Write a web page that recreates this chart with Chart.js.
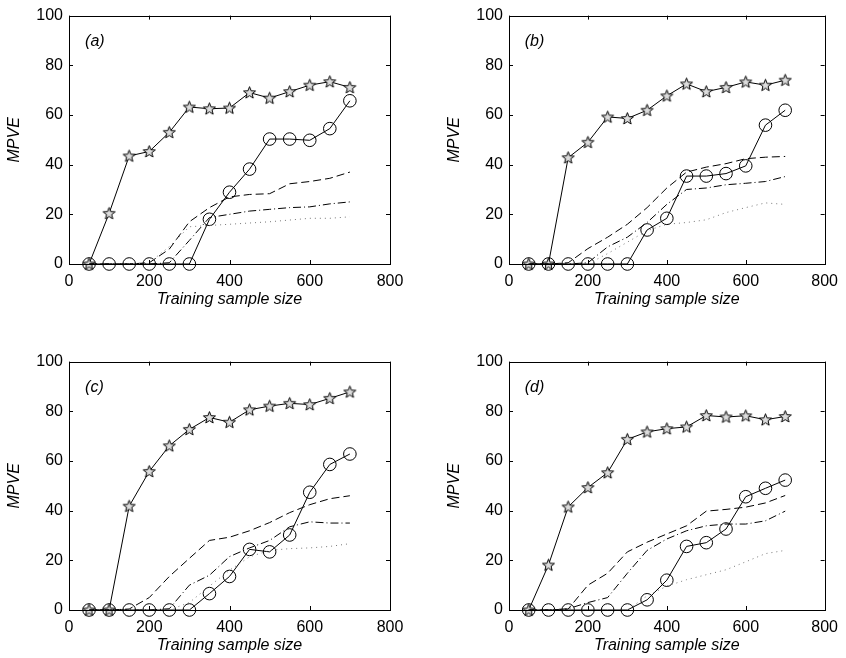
<!DOCTYPE html>
<html>
<head>
<meta charset="utf-8">
<script src="https://cdn.jsdelivr.net/npm/chart.js@4.4.1/dist/chart.umd.min.js"></script>
<style>
    html, body { margin: 0; padding: 0; background: #fff; }
    body { width: 846px; height: 658px; position: relative; overflow: hidden; }
    .panel { position: absolute; }
</style>
</head>
<body>
<div class="panel" style="left:0px;top:0px;width:423px;height:311px"><canvas id="chart-a"></canvas></div>
<div class="panel" style="left:440px;top:0px;width:406px;height:311px"><canvas id="chart-b"></canvas></div>
<div class="panel" style="left:0px;top:346px;width:423px;height:311px"><canvas id="chart-c"></canvas></div>
<div class="panel" style="left:440px;top:346px;width:406px;height:311px"><canvas id="chart-d"></canvas></div>
<script>
const sampleSizes = [50, 100, 150, 200, 250, 300, 350, 400, 450, 500, 550, 600, 650, 700];
const xTicks = [0, 200, 400, 600, 800];
const yTicks = [0, 20, 40, 60, 80, 100];

// (a)
const starA = [0, 20.4, 43.5, 45.3, 53, 63.2, 62.5, 62.8, 69, 66.8, 69.4, 72, 73.4, 71.1];
const circA = [0, 0, 0, 0, 0, 0, 18, 28.9, 38.2, 50.3, 50.3, 49.8, 54.5, 65.7];
const dashA = [0, 0, 0, 0.5, 6, 17, 22.7, 27, 28, 28.3, 32.3, 33.2, 34.5, 37];
const dashDotA = [0, 0, 0, 0, 0.5, 9.5, 18.7, 20, 21.3, 22, 22.7, 23, 24.2, 25];
const dotA = [0, 0, 0, 0.5, 7, 15, 15.5, 16, 16.5, 17, 17.7, 18.4, 18.4, 19];

// (b)
const starB = [0, 0, 42.8, 49, 59.2, 58.6, 61.9, 67.7, 72.5, 69.4, 71.1, 73.3, 72, 74];
const circB = [0, 0, 0, 0, 0, 0, 13.7, 18.4, 35.4, 35.4, 36.4, 39.5, 55.9, 61.9];
const dashB = [0, 0, 0.5, 6.2, 10.8, 16, 22.7, 30.6, 37, 39, 40.4, 42.4, 43, 43.3];
const dashDotB = [0, 0, 0, 0.5, 6.9, 10.8, 16.7, 24, 30, 30.6, 31.9, 32.5, 33.2, 35.2];
const dotB = [0, 0, 0, 0, 4.2, 8.8, 13.4, 16, 16.7, 17.8, 20.7, 22.7, 24.6, 24];

// (c)
const starC = [0, 0, 41.8, 55.8, 66.1, 72.7, 77.5, 75.6, 80.6, 82.1, 83.2, 82.7, 85.2, 87.8];
const circC = [0, 0, 0, 0, 0, 0, 6.6, 13.5, 24.4, 23.4, 30.2, 47.4, 58.6, 62.8];
const dashC = [0, 0, 0.4, 5, 13.5, 20.8, 28, 29.3, 31.9, 35.2, 39.2, 42.4, 44.8, 46];
const dashDotC = [0, 0, 0, 0, 0.5, 10, 14, 21.5, 25, 28, 33.5, 35.5, 35, 35];
const dotC = [0, 0, 0, 0, 0, 3, 9.6, 16, 21.4, 24, 24.7, 25, 25.6, 26.7];

// (d)
const starD = [0, 18.1, 41.5, 49.3, 55.3, 68.7, 71.7, 73, 73.7, 78.3, 77.7, 78.2, 76.6, 77.9];
const circD = [0, 0, 0, 0, 0, 0, 4.1, 12, 25.6, 27.1, 32.6, 45.6, 49, 52.3];
const dashD = [0, 0, 0.4, 10, 14.8, 23.4, 27.3, 30.6, 33.9, 39.8, 40.5, 41.4, 43.1, 46.1];
const dashDotD = [0, 0, 0.5, 3, 5, 14.8, 24, 28.6, 31.9, 33.9, 34.6, 34.6, 35.9, 39.8];
const dotD = [0, 0, 0, 0, 0, 0, 5.7, 9.6, 12.2, 14.2, 16.2, 19.4, 22.7, 24];

const FONT = '"Liberation Sans", Arial, Helvetica, sans-serif';
const FS = 16;

// pentagram marker
function makeStar() {
    const c = document.createElement('canvas');
    c.width = 15; c.height = 15;
    const g = c.getContext('2d');
    g.beginPath();
    for (let i = 0; i < 10; i++) {
        const r = i % 2 === 0 ? 6.3 : 2.7;
        const a = -Math.PI / 2 + i * Math.PI / 5;
        const px = 7.5 + r * Math.cos(a), py = 7.9 + r * Math.sin(a);
        if (i === 0) g.moveTo(px, py); else g.lineTo(px, py);
    }
    g.closePath();
    g.fillStyle = '#dcdcdc';
    g.fill();
    g.strokeStyle = '#000';
    g.lineWidth = 1;
    g.stroke();
    return c;
}
const starImg = makeStar();

const toPoints = arr => arr.map((v, i) => ({ x: sampleSizes[i], y: v }));

// box frame + inward ticks (MATLAB style) and panel tag
const framePlugin = {
    id: 'frame',
    afterDatasetsDraw(chart) {
        const { ctx, chartArea: a, scales: { x, y } } = chart;
        ctx.save();
        ctx.strokeStyle = '#000';
        ctx.lineWidth = 1;
        ctx.strokeRect(Math.round(a.left) + 0.5, Math.round(a.top) + 0.5,
            Math.round(a.right - a.left), Math.round(a.bottom - a.top));
        ctx.beginPath();
        xTicks.forEach(t => {
            const px = Math.round(x.getPixelForValue(t)) + 0.5;
            ctx.moveTo(px, a.bottom); ctx.lineTo(px, a.bottom - 4);
            ctx.moveTo(px, a.top); ctx.lineTo(px, a.top + 4);
        });
        yTicks.forEach(t => {
            const py = Math.round(y.getPixelForValue(t)) + 0.5;
            ctx.moveTo(a.left, py); ctx.lineTo(a.left + 4, py);
            ctx.moveTo(a.right, py); ctx.lineTo(a.right - 4, py);
        });
        ctx.stroke();
        const tag = chart.options.plugins.frame.tag;
        ctx.fillStyle = '#000';
        ctx.font = 'italic ' + FS + 'px ' + FONT;
        ctx.textAlign = 'left';
        ctx.textBaseline = 'middle';
        ctx.fillText(tag, x.getPixelForValue(40), y.getPixelForValue(89.5));
        ctx.restore();
    }
};

function makePanel(id, tag, star, circ, dash, dashDot, dot, padRight) {
    const base = { borderColor: '#000', borderWidth: 1, pointRadius: 0, tension: 0, clip: false, fill: false };
    new Chart(document.getElementById(id), {
        type: 'line',
        data: {
            datasets: [
                { ...base, data: toPoints(dot), borderDash: [1, 4], borderColor: '#777' },
                { ...base, data: toPoints(dashDot), borderDash: [8, 3, 1, 3] },
                { ...base, data: toPoints(dash), borderDash: [8, 4] },
                { ...base, data: toPoints(circ), pointRadius: 6.3, pointStyle: 'circle', pointBorderColor: '#000', pointBackgroundColor: 'rgba(0,0,0,0)', pointBorderWidth: 1 },
                { ...base, data: toPoints(star), pointRadius: 6, pointStyle: starImg }
            ]
        },
        options: {
            responsive: true,
            maintainAspectRatio: false,
            animation: false,
            layout: { padding: { top: 11, right: padRight, left: 0, bottom: 0 } },
            plugins: { legend: { display: false }, tooltip: { enabled: false }, frame: { tag: tag } },
            scales: {
                x: {
                    type: 'linear', min: 0, max: 800,
                    afterBuildTicks: s => { s.ticks = xTicks.map(v => ({ value: v })); },
                    afterFit: s => { s.height = 47; },
                    grid: { display: false, drawTicks: false },
                    border: { display: false },
                    ticks: { color: '#000', padding: 8, maxRotation: 0, font: { family: FONT, size: FS } },
                    title: { display: true, text: 'Training sample size', color: '#000', padding: { top: 0, bottom: 2 }, font: { family: FONT, size: FS, style: 'italic' } }
                },
                y: {
                    type: 'linear', min: 0, max: 100,
                    afterBuildTicks: s => { s.ticks = yTicks.map(v => ({ value: v })); },
                    afterFit: s => { s.width = 69; },
                    grid: { display: false, drawTicks: false },
                    border: { display: false },
                    ticks: { color: '#000', padding: 6, font: { family: FONT, size: FS } },
                    title: { display: true, text: 'MPVE', color: '#000', padding: { top: 5, bottom: 0 }, font: { family: FONT, size: FS, style: 'italic' } }
                }
            }
        },
        plugins: [framePlugin]
    });
}

makePanel('chart-a', '(a)', starA, circA, dashA, dashDotA, dotA, 33);
makePanel('chart-b', '(b)', starB, circB, dashB, dashDotB, dotB, 16);
makePanel('chart-c', '(c)', starC, circC, dashC, dashDotC, dotC, 33);
makePanel('chart-d', '(d)', starD, circD, dashD, dashDotD, dotD, 16);
</script>
</body>
</html>
